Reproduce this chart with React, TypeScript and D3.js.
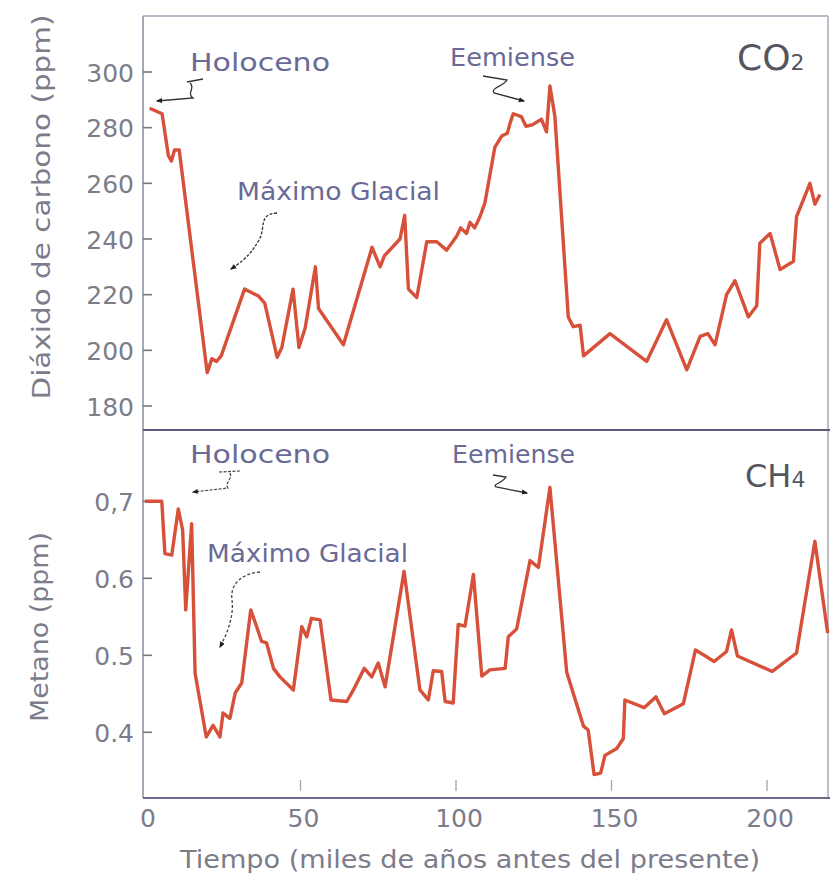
import React from "react";
import * as d3 from "d3";

// ---- data (age in thousands of years before present) ----
const co2Age = [1.5, 5.5, 7.5, 8.5, 9.5, 11, 20, 21.5, 23, 24.5, 32, 36.5, 38.5, 42.5, 44, 47.6, 49.5, 51.5, 54.8, 55.8, 63.8, 73, 75.6, 77, 82, 83.5, 84.7, 87.4, 90.6, 93.8, 97, 100.2, 101.5, 103.4, 104.5, 106, 107.7, 109.3, 112.5, 114.7, 116.5, 117.5, 118.4, 121, 122.5, 124.5, 127.5, 129.1, 130.2, 131.8, 136.1, 137.7, 139.9, 141, 149.5, 161.3, 167.7, 174.2, 178.5, 181, 183.3, 187, 189.7, 194, 196.7, 197.7, 201, 204.2, 208.5, 209.5, 213.8, 215.4, 217];
const co2Val = [287, 285, 270, 268, 272, 272, 192, 197, 196, 198, 222, 219.5, 217, 197.5, 201, 222, 201, 208, 230, 215, 202, 237, 230, 234, 240, 248.5, 222, 219, 239, 239, 236, 241, 244, 242, 246, 244, 248, 253, 273, 277, 278, 282, 285, 284, 280.5, 281, 283, 278.5, 295, 284, 212, 208.5, 209, 198, 206, 196, 211, 193, 205, 206, 202, 220, 225, 212, 216, 238.5, 242, 229, 232, 248, 260, 252.5, 256];

const ch4Age = [0, 5.4, 6.4, 8.6, 10.7, 12.1, 13.1, 15, 16.1, 19.7, 21.9, 24.1, 25.1, 27.3, 29, 31.1, 34, 35.9, 37.5, 39.1, 41.3, 43.4, 47.7, 50.4, 52, 53.5, 56.3, 59.8, 64.9, 67, 70.5, 72.9, 75, 77.2, 83.3, 88.4, 91.1, 92.7, 95.4, 96.5, 99.1, 100.7, 102.9, 105.6, 108.3, 110.9, 115.8, 116.8, 119.5, 123.8, 126.5, 130.2, 135.6, 141, 142.5, 144.4, 146.5, 147.9, 151.7, 153.8, 154.3, 160.5, 164.3, 167, 173.1, 177, 183, 187, 188.6, 190.5, 201.7, 209.5, 215.4, 219.5];
const ch4Val = [0.7, 0.7, 0.632, 0.63, 0.69, 0.663, 0.559, 0.671, 0.477, 0.394, 0.409, 0.394, 0.425, 0.418, 0.451, 0.464, 0.559, 0.537, 0.518, 0.516, 0.483, 0.472, 0.455, 0.537, 0.524, 0.548, 0.546, 0.442, 0.44, 0.455, 0.483, 0.472, 0.49, 0.459, 0.609, 0.455, 0.442, 0.48, 0.479, 0.44, 0.438, 0.54, 0.538, 0.605, 0.473, 0.481, 0.483, 0.524, 0.534, 0.623, 0.614, 0.718, 0.478, 0.408, 0.403, 0.345, 0.347, 0.37, 0.379, 0.392, 0.442, 0.432, 0.446, 0.424, 0.437, 0.507, 0.492, 0.505, 0.533, 0.499, 0.479, 0.503, 0.648, 0.529];

const co2Ticks = [180, 200, 220, 240, 260, 280, 300];
const ch4Ticks = [0.4, 0.5, 0.6, 0.7];
const ch4TickLabels = ["0.4", "0.5", "0.6", "0,7"];
const xTicks = [0, 50, 100, 150, 200];

const LINE = "#d6503a";
const FRAME = "#8a8aa0";
const TXT = "#7c7c8a";
const ANN = "#6a6a96";
const FONT = "'DejaVu Sans', 'Open Sans', sans-serif";

export default function App() {
  const L = 143, R = 828, T1 = 16, M = 430, B = 798;
  const x = d3.scaleLinear().domain([0, 220]).range([145, 145 + 3.11 * 220]);
  const yCO2 = d3.scaleLinear().domain([180, 300]).range([406, 72]);
  const yCH4 = d3.scaleLinear().domain([0.4, 0.7]).range([732.3, 501.3]);

  const co2Line = d3.line<number>().x((d, i) => x(co2Age[i])).y((d) => yCO2(d));
  const ch4Line = d3.line<number>().x((d, i) => x(ch4Age[i])).y((d) => yCH4(d));

  const arrowHead = (id: string) => (
    <marker id={id} viewBox="0 0 10 10" refX="8" refY="5" markerWidth="5" markerHeight="5" orient="auto-start-reverse">
      <path d="M0,1 L10,5 L0,9 z" fill="#222" />
    </marker>
  );

  return (
    <svg width={831} height={880} style={{ position: "absolute", left: 0, top: 0, background: "#fff" }} fontFamily={FONT}>
      <defs>{arrowHead("ah")}</defs>
      <rect x={0} y={0} width={831} height={880} fill="#fff" />

      {/* frames */}
      <line x1={L} y1={T1} x2={R} y2={T1} stroke="#a0a0b4" strokeWidth={1.5} />
      <line x1={L} y1={T1} x2={L} y2={B} stroke={FRAME} strokeWidth={1.5} />
      <line x1={R} y1={T1} x2={R} y2={B} stroke="#a8a8b8" strokeWidth={1.5} />
      <line x1={L} y1={M} x2={R + 2} y2={M} stroke="#5a5a7c" strokeWidth={1.8} />
      <line x1={L} y1={B} x2={R + 2} y2={B} stroke="#6a6a88" strokeWidth={1.8} />

      {/* top y ticks */}
      {co2Ticks.map((t) => (
        <g key={"c" + t}>
          <line x1={L} x2={L + 9} y1={yCO2(t)} y2={yCO2(t)} stroke="#777" strokeWidth={1.6} />
          <text x={134} y={yCO2(t) + 1} textAnchor="end" dominantBaseline="central" fontSize={25} fill={TXT}>{t}</text>
        </g>
      ))}
      {/* bottom y ticks */}
      {ch4Ticks.map((t, i) => (
        <g key={"m" + t}>
          <line x1={L} x2={L + 9} y1={yCH4(t)} y2={yCH4(t)} stroke="#777" strokeWidth={1.6} />
          <text x={134} y={yCH4(t) + 1} textAnchor="end" dominantBaseline="central" fontSize={25} fill={TXT}>{ch4TickLabels[i]}</text>
        </g>
      ))}
      {/* x ticks */}
      {xTicks.map((t) => (
        <g key={"x" + t}>
          {t > 0 && <line x1={x(t)} x2={x(t)} y1={780} y2={791} stroke="#aaa" strokeWidth={1.4} />}
          <text x={x(t) + 3} y={827} textAnchor="middle" fontSize={25} fill={TXT}>{t}</text>
        </g>
      ))}

      {/* axis titles */}
      <text x={470} y={868} textAnchor="middle" fontSize={25} fill={TXT} textLength={580} lengthAdjust="spacingAndGlyphs">Tiempo (miles de años antes del presente)</text>
      <text transform="translate(50,207) rotate(-90)" textAnchor="middle" fontSize={25} fill={TXT} textLength={385} lengthAdjust="spacingAndGlyphs">Diáxido de carbono (ppm)</text>
      <text transform="translate(48,627) rotate(-90)" textAnchor="middle" fontSize={25} fill={TXT} textLength={190} lengthAdjust="spacingAndGlyphs">Metano (ppm)</text>

      {/* data lines */}
      <path d={co2Line(co2Val) || ""} fill="none" stroke={LINE} strokeWidth={3.4} strokeLinejoin="round" />
      <path d={ch4Line(ch4Val) || ""} fill="none" stroke={LINE} strokeWidth={3.4} strokeLinejoin="round" />

      {/* panel labels */}
      <text x={737} y={70} fontSize={36} fill="#55555f">CO<tspan fontSize={22}>2</tspan></text>
      <text x={745} y={487} fontSize={32} fill="#55555f">CH<tspan fontSize={22}>4</tspan></text>

      {/* annotations top */}
      <text x={190} y={71} fontSize={24} fill={ANN} textLength={140} lengthAdjust="spacingAndGlyphs">Holoceno</text>
      <text x={450} y={66} fontSize={24} fill={ANN} textLength={125} lengthAdjust="spacingAndGlyphs">Eemiense</text>
      <text x={237} y={200} fontSize={24} fill={ANN} textLength={203} lengthAdjust="spacingAndGlyphs">Máximo Glacial</text>
      <path d="M187,82 L203,79 M190,83 C196,88 186,93 193,98 L157,101" fill="none" stroke="#333" strokeWidth={1.3} markerEnd="url(#ah)" />
      <path d="M277,213 C258,214 266,228 259,240 C253,250 248,258 231,269" fill="none" stroke="#333" strokeWidth={1.3} strokeDasharray="3,1.5" markerEnd="url(#ah)" />
      <path d="M483,76 L507,80 C504,86 490,88 494,93 L524,101" fill="none" stroke="#333" strokeWidth={1.3} markerEnd="url(#ah)" />

      {/* annotations bottom */}
      <text x={190} y={463} fontSize={24} fill={ANN} textLength={140} lengthAdjust="spacingAndGlyphs">Holoceno</text>
      <text x={452} y={463} fontSize={24} fill={ANN} textLength={123} lengthAdjust="spacingAndGlyphs">Eemiense</text>
      <text x={207} y={562} fontSize={24} fill={ANN} textLength={201} lengthAdjust="spacingAndGlyphs">Máximo Glacial</text>
      <path d="M219,472 L240,471 M230,473 C233,479 224,483 228,488 L193,492" fill="none" stroke="#444" strokeWidth={1.2} strokeDasharray="3,1.5" markerEnd="url(#ah)" />
      <path d="M493,475 L506,477 C503,483 492,484 496,487 L527,493" fill="none" stroke="#333" strokeWidth={1.3} markerEnd="url(#ah)" />
      <path d="M260,572 C240,574 230,585 232,600 C234,615 228,632 220,647" fill="none" stroke="#444" strokeWidth={1.3} strokeDasharray="3,2" markerEnd="url(#ah)" />
    </svg>
  );
}
